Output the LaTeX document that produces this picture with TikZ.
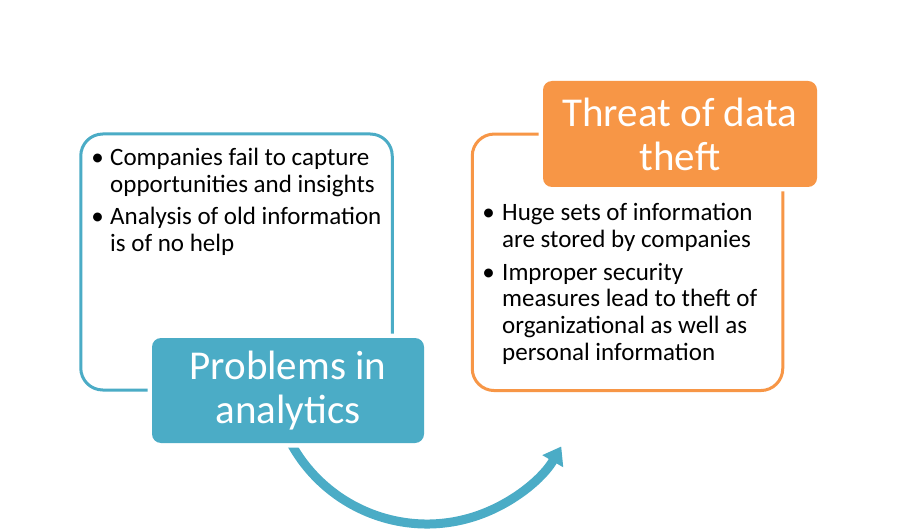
\documentclass[tikz,border=0pt]{standalone}
\usepackage{fontspec}
\setmainfont{Carlito}
\usetikzlibrary{arrows.meta}
\definecolor{cblue}{HTML}{4BACC6}
\definecolor{corange}{HTML}{F79646}
\newcommand{\lines}[1]{\begin{tabular}[t]{@{}l@{}}#1\end{tabular}}
\begin{document}
\begin{tikzpicture}[x=1pt,y=-1pt,
  frame/.style={draw=#1, line width=3pt, rounded corners=22pt, inner sep=0pt},
  titlebox/.style={fill=#1, rounded corners=9pt, text=white,
     font=\fontsize{41}{44}\selectfont, align=center, inner sep=0pt,
     preaction={draw=white, line width=9pt}},
  btext/.style={anchor=base west, inner sep=0pt,
     font=\fontsize{25}{26.8}\selectfont},
  bdot/.style={anchor=base, inner sep=0pt, font=\fontsize{25}{26.8}\selectfont},
  bigarrow/.style={draw=cblue, line width=9pt, -{Triangle[width=23pt,length=17pt]}}]
\useasboundingbox (0,0) rectangle (899,529);
\fill[white] (0,0) rectangle (899,529);
% outline frames
\node[frame=cblue, minimum width=311.5pt, minimum height=256pt] (lframe) at (236.5,262) {};
\node[frame=corange, minimum width=310.5pt, minimum height=256.5pt] (rframe) at (627.5,262.3) {};
% curved arrow
\coordinate (arcstart) at (281.35,422);
\draw[bigarrow] (arcstart) arc[start angle=200, end angle=330, radius=155pt] coordinate (arcend);
% title boxes
\node[titlebox=cblue, minimum width=272pt, minimum height=105pt] (ltitle) at (288,390.5) {Problems in\\analytics};
\node[titlebox=corange, minimum width=274pt, minimum height=106pt] (rtitle) at (680,134) {Threat of data\\theft};
% left bullets
\node[bdot] (ld1) at (97.5,166) {•};
\node[btext] (lt1) at (110,166) {\lines{Companies fail to capture\\opportunities and insights}};
\node[bdot] (ld2) at (97.5,225) {•};
\node[btext] (lt2) at (110,225) {\lines{Analysis of old information\\is of no help}};
% right bullets
\node[bdot] (rd1) at (488.5,220.5) {•};
\node[btext] (rt1) at (502,220.5) {\lines{Huge sets of information\\are stored by companies}};
\node[bdot] (rd2) at (488.5,280) {•};
\node[btext] (rt2) at (502,280) {\lines{Improper security\\measures lead to theft of\\organizational as well as\\personal information}};
\end{tikzpicture}
\end{document}
